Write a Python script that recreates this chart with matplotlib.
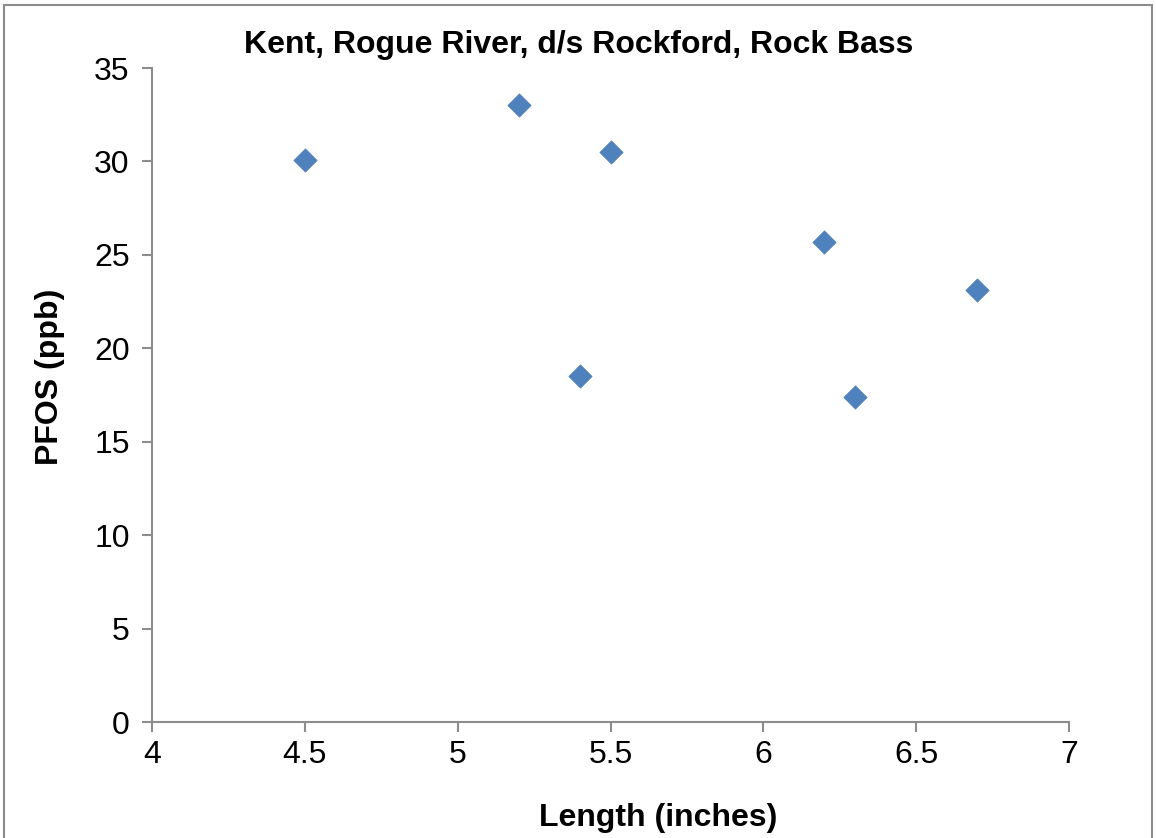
import matplotlib
matplotlib.use("Agg")
import matplotlib.pyplot as plt
from matplotlib.patches import Rectangle

plt.rcParams['font.family'] = ['Liberation Sans', 'DejaVu Sans']

# fish length (inches) vs PFOS (ppb)
length_in = [4.5, 5.2, 5.5, 6.2, 6.7, 5.4, 6.3]
pfos_ppb = [30.1, 33.0, 30.5, 25.7, 23.1, 18.5, 17.4]

x_ticks = [4, 4.5, 5, 5.5, 6, 6.5, 7]
x_labels = ['4', '4.5', '5', '5.5', '6', '6.5', '7']
y_ticks = [0, 5, 10, 15, 20, 25, 30, 35]

W, H = 1156, 838
fig = plt.figure(figsize=(W / 100, H / 100), dpi=100)
ax = fig.add_axes([152 / W, 116 / H, (1069 - 152) / W, (722 - 68) / H])

# outer chart border (runs off the bottom like the original)
fig.patches.append(Rectangle((4 / W, -0.05), (1152 - 4) / W, (H - 5) / H + 0.05,
                             transform=fig.transFigure, fill=False,
                             edgecolor='#8c8c8c', linewidth=1.5))

ax.scatter(length_in, pfos_ppb, marker='D', s=140, color='#4f81bd',
           edgecolors='#4a7ab5', linewidths=0.5, zorder=3)

ax.set_xlim(4, 7)
ax.set_ylim(0, 35)
ax.set_xticks(x_ticks)
ax.set_xticklabels(x_labels)
ax.set_yticks(y_ticks)

for side in ['top', 'right']:
    ax.spines[side].set_visible(False)
for side in ['left', 'bottom']:
    ax.spines[side].set_color('#8c8c8c')
    ax.spines[side].set_linewidth(1.5)

ax.tick_params(direction='out', length=7, width=1.5, color='#8c8c8c',
               labelsize=23)
ax.tick_params(axis='y', pad=9)
ax.tick_params(axis='x', pad=6)

fig.text(658 / W, 1 - 818 / H, 'Length (inches)', ha='center', va='center',
         fontsize=23, fontweight='bold')
fig.text(50 / W, 1 - 377 / H, 'PFOS (ppb)', ha='center', va='center',
         rotation=90, fontsize=23, fontweight='bold')
fig.text(579 / W, 1 - 45 / H, 'Kent, Rogue River, d/s Rockford, Rock Bass',
         ha='center', va='center', fontsize=23, fontweight='bold')

fig.savefig('out.png', dpi=100)
